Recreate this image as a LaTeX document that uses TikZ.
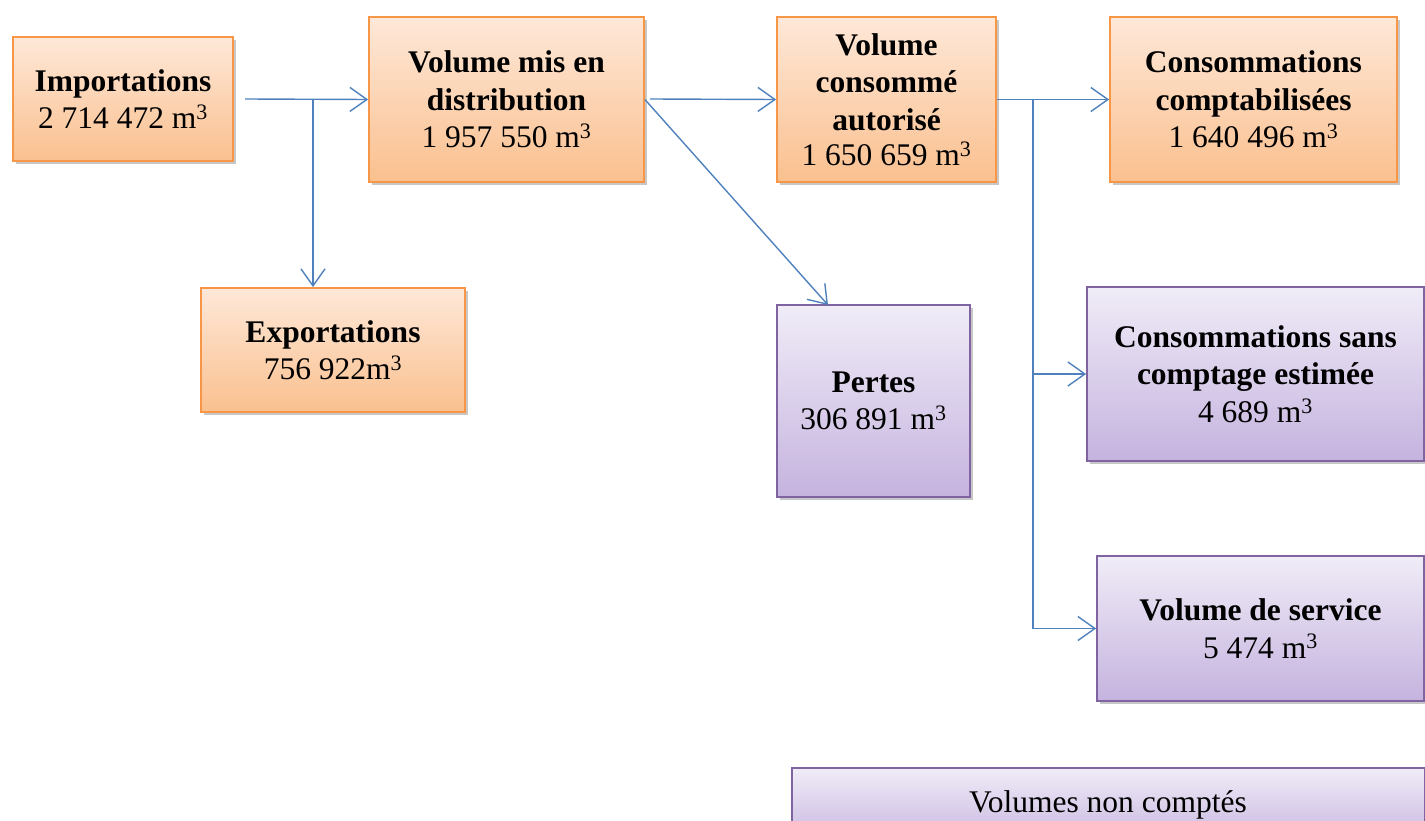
\documentclass[tikz,border=0pt]{standalone}
\usepackage{fontspec}
\setmainfont{Liberation Serif}
\usetikzlibrary{arrows.meta,shadows}
\definecolor{orborder}{HTML}{F79646}
\definecolor{ortop}{HTML}{FEE8D8}
\definecolor{orbot}{HTML}{FAC08F}
\definecolor{puborder}{HTML}{8064A2}
\definecolor{putop}{HTML}{F0ECF7}
\definecolor{pubot}{HTML}{C5B3DF}
\definecolor{linkc}{HTML}{4F81BD}
\tikzset{
  box/.style={rectangle, line width=1.8pt, align=center, inner sep=0pt,
    font=\fontsize{31.5}{37.5}\selectfont,
    drop shadow={shadow xshift=2.5pt, shadow yshift=-3pt, fill=black, opacity=0.22}},
  orbox/.style={box, draw=orborder, top color=ortop, bottom color=orbot},
  pubox/.style={box, draw=puborder, top color=putop, bottom color=pubot},
  link/.style={draw=linkc, line width=1.4pt,
    -{Straight Barb[length=17pt, width=24pt, line width=1.4pt]}},
  plain/.style={draw=linkc, line width=1.4pt}
}
\newcommand{\mcube}{m\textsuperscript{3}}
\begin{document}
\begin{tikzpicture}[x=1pt,y=-1pt]
\useasboundingbox (0,0) rectangle (1425,821);
% nodes
\node[orbox, minimum width=220pt, minimum height=124pt] (imp) at (123,99)
  {\textbf{Importations}\\2 714 472 \mcube};
\node[orbox, minimum width=275pt, minimum height=165pt] (vmd) at (506.5,99.5)
  {\textbf{Volume mis en}\\\textbf{distribution}\\1 957 550 \mcube};
\node[orbox, minimum width=219pt, minimum height=165pt] (vca) at (886.5,99.5)
  {\textbf{Volume}\\\textbf{consommé}\\\textbf{autorisé}\\[-2pt]1 650 659 \mcube};
\node[orbox, minimum width=287pt, minimum height=165pt] (cc) at (1253.5,99.5)
  {\textbf{Consommations}\\\textbf{comptabilisées}\\1 640 496 \mcube};
\node[orbox, minimum width=264pt, minimum height=124pt] (exp) at (333,350)
  {\textbf{Exportations}\\756 922\mcube};
\node[pubox, minimum width=193pt, minimum height=192pt] (pertes) at (873.5,401)
  {\textbf{Pertes}\\306 891 \mcube};
\node[pubox, minimum width=337pt, minimum height=174pt] (csc) at (1255.5,374)
  {\textbf{Consommations sans}\\\textbf{comptage estimée}\\4 689 \mcube};
\node[pubox, minimum width=327pt, minimum height=145pt] (vds) at (1260.5,628.5)
  {\textbf{Volume de service}\\5 474 \mcube};
\node[pubox, minimum width=633pt, minimum height=80pt, anchor=north west, font=\fontsize{31.5}{37.5}\selectfont] (vnc) at (791,767) {};
\node[font=\fontsize{31.5}{37.5}\selectfont, anchor=base] (vnctext) at (1108,812) {Volumes non comptés};
% connectors
\coordinate (impout) at (245,99);
\coordinate (j1) at (313,99);
\coordinate (vmdout) at (650,99);
\coordinate (pin) at (828,305);
\coordinate (j2) at (1033,99);
\draw[link] (impout) -- (vmd.west);
\draw[link] (j1) -- (j1 |- exp.north);
\draw[link] (vmdout) -- (vca.west);
\draw[link] (vmd.east) -- (pin);
\draw[link] (vca.east) -- (cc.west);
\draw[plain] (j2) -- (j2 |- vds.west);
\draw[link] (j2 |- csc.west) -- (csc.west);
\draw[link] (j2 |- vds.west) -- (vds.west);
\end{tikzpicture}
\end{document}
